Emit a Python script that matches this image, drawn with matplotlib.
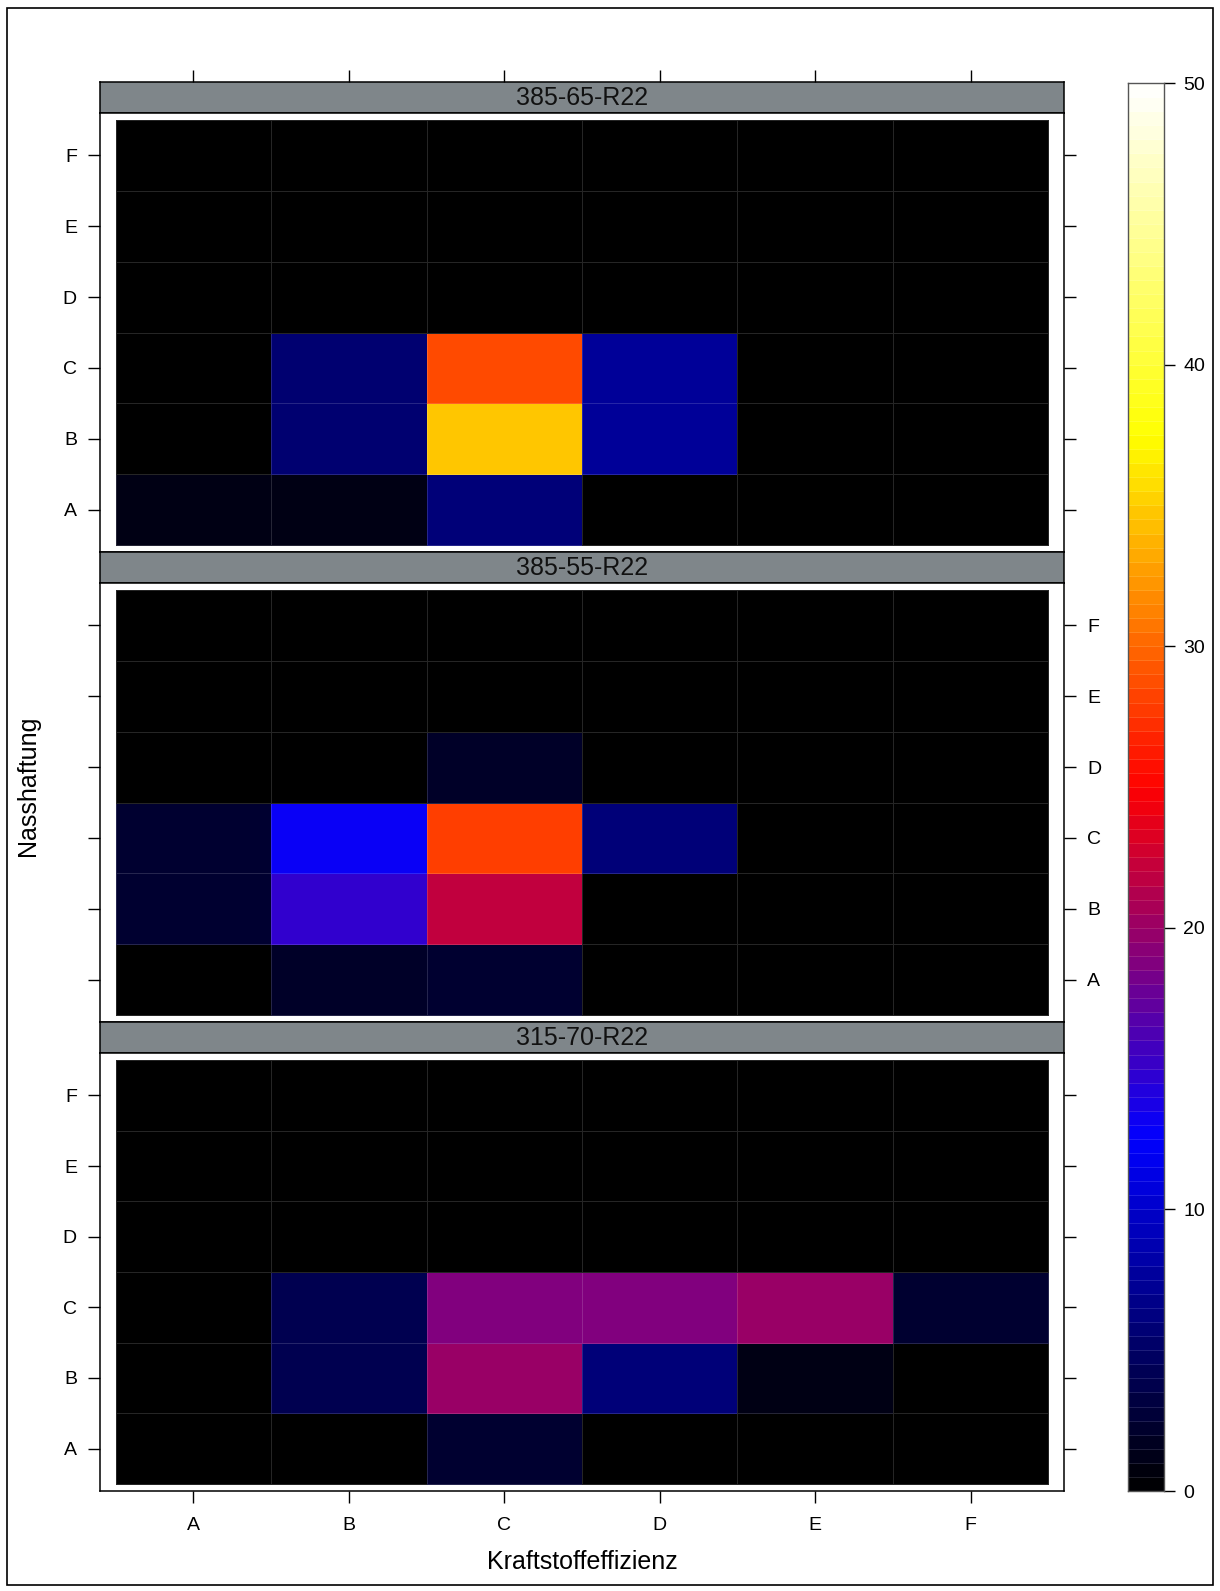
import numpy as np
import matplotlib
matplotlib.use("Agg")
import matplotlib.pyplot as plt
from matplotlib.colors import LinearSegmentedColormap, Normalize, BoundaryNorm
from matplotlib.patches import Rectangle

plt.rcParams['font.family'] = ['Liberation Sans', 'DejaVu Sans']

# Grade labels (EU tyre label classes)
grades = ["A", "B", "C", "D", "E", "F"]
tyre_sizes = ["385-65-R22", "385-55-R22", "315-70-R22"]

# Counts per cell: rows = Nasshaftung (A..F, bottom to top),
# columns = Kraftstoffeffizienz (A..F, left to right)
counts_385_65 = [
    [1, 1, 6, 0, 0, 0],
    [0, 5.5, 34.7, 7.5, 0, 0],
    [0, 5.5, 28.7, 7.5, 0, 0],
    [0, 0, 0, 0, 0, 0],
    [0, 0, 0, 0, 0, 0],
    [0, 0, 0, 0, 0, 0],
]
counts_385_55 = [
    [0, 2, 2.5, 0, 0, 0],
    [2.5, 15, 22, 0, 0, 0],
    [2.5, 13, 28, 6, 0, 0],
    [0, 0, 2, 0, 0, 0],
    [0, 0, 0, 0, 0, 0],
    [0, 0, 0, 0, 0, 0],
]
counts_315_70 = [
    [0, 0, 2.5, 0, 0, 0],
    [0, 4, 20, 6, 1, 0],
    [0, 4, 18.8, 18.8, 20, 2.5],
    [0, 0, 0, 0, 0, 0],
    [0, 0, 0, 0, 0, 0],
    [0, 0, 0, 0, 0, 0],
]
panel_data = [counts_385_65, counts_385_55, counts_315_70]

color_ticks = [0, 10, 20, 30, 40, 50]
vmin, vmax = 0, 50

W, H = 1220, 1591
fig = plt.figure(figsize=(W / 100, H / 100), dpi=100)


def rect(x0, y0, x1, y1):
    return [x0 / W, 1 - y1 / H, (x1 - x0) / W, (y1 - y0) / H]


cmap = LinearSegmentedColormap.from_list(
    "heat", ["black", "blue", "red", "yellow", "white"], N=256)
norm = Normalize(vmin, vmax)
levels = np.arange(vmin, vmax + 0.5, 0.5)

# outer frame
fig.add_artist(Rectangle((7 / W, 1 - 1585 / H), 1206 / W, 1577 / H,
                         transform=fig.transFigure, fill=False,
                         edgecolor="black", linewidth=1.2))

px_left, px_right = 100, 1064
strips = [(82, 113), (552, 583), (1022, 1053)]
panels = [(113, 552), (583, 1022), (1053, 1491)]
tick_len = 8.6
tick_fs = 14
pos = np.arange(1, 7)
edges = np.arange(0.5, 7.0, 1.0)

for i, (name, data) in enumerate(zip(tyre_sizes, panel_data)):
    sy0, sy1 = strips[i]
    py0, py1 = panels[i]

    # strip
    sax = fig.add_axes(rect(px_left, sy0, px_right, sy1))
    sax.set_facecolor("#7f868a")
    sax.set_xlim(0.4, 6.6)
    sax.set_ylim(0, 1)
    sax.set_yticks([])
    sax.text(0.5, 0.47, name, transform=sax.transAxes, ha="center",
             va="center", fontsize=18, color="#111111")
    for sp in sax.spines.values():
        sp.set_linewidth(1.1)
    if i == 0:
        sax.xaxis.set_ticks_position("top")
        sax.set_xticks(pos)
        sax.tick_params(axis="x", direction="out", length=tick_len,
                        width=1.0, labeltop=False, labelbottom=False)
    else:
        sax.set_xticks([])

    # panel
    ax = fig.add_axes(rect(px_left, py0, px_right, py1))
    ax.set_xlim(0.4, 6.6)
    ax.set_ylim(0.4, 6.6)
    ax.pcolormesh(edges, edges, np.array(data, dtype=float), cmap=cmap,
                  norm=norm, edgecolors=(1, 1, 1, 0.15), linewidth=0.6)
    for sp in ax.spines.values():
        sp.set_linewidth(1.1)

    ax.set_yticks(pos)
    ax.set_yticklabels(grades)
    left_labels = (i != 1)
    ax.tick_params(axis="y", direction="out", length=tick_len, width=1.0,
                   left=True, right=True, labelleft=left_labels,
                   labelright=not left_labels, labelsize=tick_fs, pad=8)
    ax.set_xticks(pos)
    if i == 2:
        ax.set_xticklabels(grades)
        ax.tick_params(axis="x", direction="out", length=tick_len,
                       width=1.0, labelsize=tick_fs, pad=10)
    else:
        ax.tick_params(axis="x", bottom=False, labelbottom=False)

# colour key
cax = fig.add_axes(rect(1128, 83, 1164, 1491))
cax.set_xlim(0, 1)
cax.set_ylim(vmin, vmax)
cax.pcolormesh([0, 1], levels, (levels[:-1] + 0.25).reshape(-1, 1),
               cmap=cmap, norm=norm, edgecolors=(1, 1, 1, 0.12),
               linewidth=0.5)
cax.set_xticks([])
cax.yaxis.set_ticks_position("right")
cax.set_yticks(color_ticks)
cax.set_yticklabels([str(t) for t in color_ticks])
cax.tick_params(axis="y", direction="out", length=8, width=1.0,
                labelsize=tick_fs, pad=6)
for sp in cax.spines.values():
    sp.set_linewidth(1.0)
    sp.set_edgecolor("#555555")

# axis titles
fig.text(582 / W, 1 - 1562 / H, "Kraftstoffeffizienz", ha="center",
         va="center", fontsize=18)
fig.text(28 / W, 1 - 786 / H, "Nasshaftung", ha="center", va="center",
         rotation=90, fontsize=18)

fig.savefig("out.png", dpi=100)
